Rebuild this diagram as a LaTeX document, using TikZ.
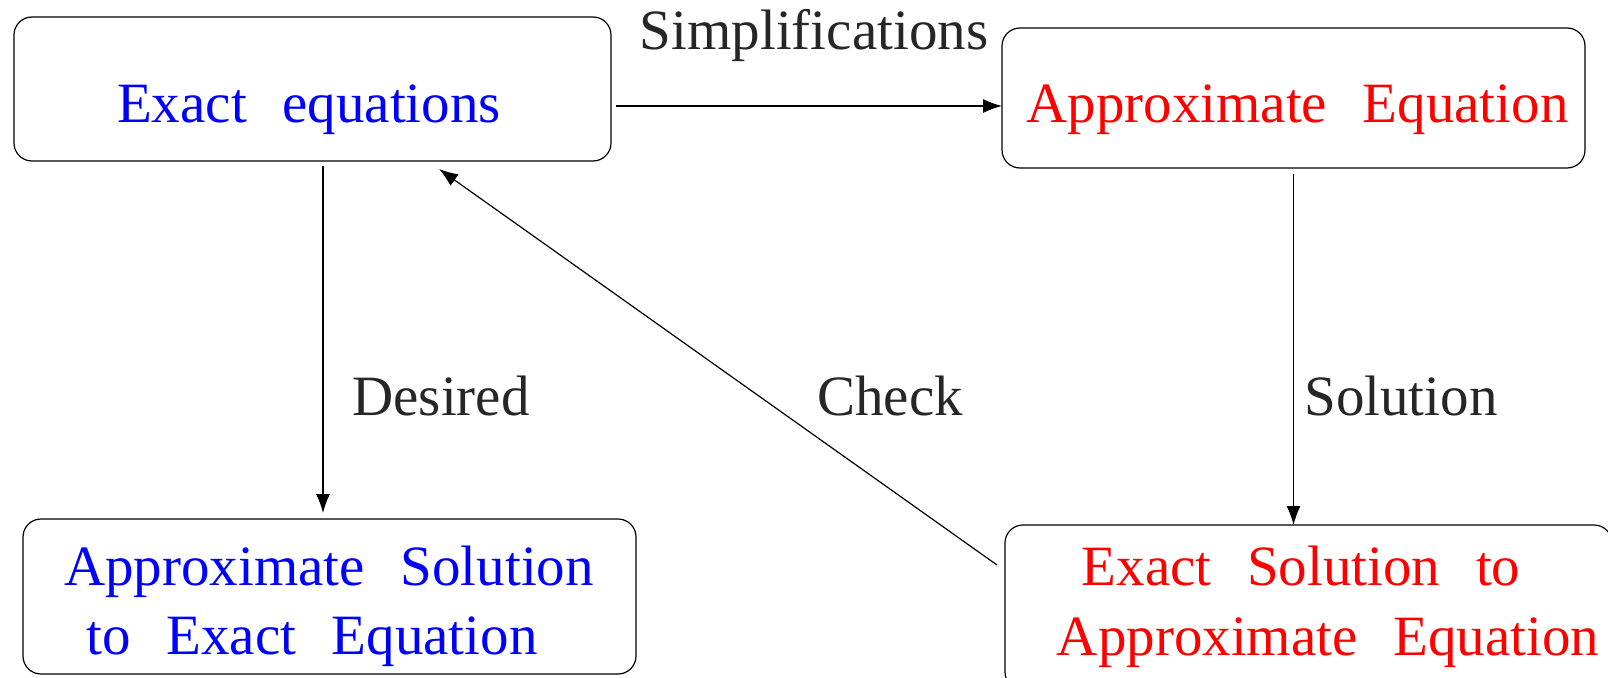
\documentclass[tikz,border=0pt]{standalone}
\usepackage{fontspec}
\setmainfont{Liberation Serif}
\newfontfamily\boxfont[WordSpace=2.5]{Liberation Serif}
\usetikzlibrary{arrows.meta,calc}

\definecolor{eqblue}{rgb}{0,0,1}
\definecolor{eqred}{rgb}{1,0,0}
\definecolor{labelgray}{gray}{0.15}

\tikzset{
  eqbox/.style={draw=black, line width=1.2pt, rounded corners=18pt,
                inner sep=0pt, outer sep=0pt},
  eqtext/.style={anchor=base, inner sep=0pt,
                 font=\boxfont\fontsize{57}{69}\selectfont},
  edgelabel/.style={anchor=base, inner sep=0pt, text=labelgray,
                    font=\fontsize{57}{69}\selectfont},
  arr/.style={line width=1.2pt, -{Latex[length=19pt,width=14pt]}}
}

\begin{document}
\begin{tikzpicture}[x=1pt, y=-1pt]
  \useasboundingbox (0,0) rectangle (1608,677);
  \clip (0,0) rectangle (1608,677);

  % boxes
  \node[eqbox, minimum width=597pt, minimum height=144pt] (A) at (312.5,89) {};
  \node[eqbox, minimum width=583pt, minimum height=140pt] (B) at (1293.5,98) {};
  \node[eqbox, minimum width=613pt, minimum height=155pt] (C) at (329.5,596.5) {};
  \node[eqbox, minimum width=607pt, minimum height=165pt] (D) at (1308.5,607.5) {};

  % box texts
  \node[eqtext, text=eqblue] (tA) at (309,122) {Exact equations};
  \node[eqtext, text=eqred] (tB) at (1297.5,122) {Approximate Equation};
  \node[eqtext, text=eqblue] (tC1) at (329,585) {Approximate Solution};
  \node[eqtext, text=eqblue] (tC2) at (312,654) {to Exact Equation};
  \node[eqtext, text=eqred] (tD1) at (1301,585) {Exact Solution to};
  \node[eqtext, text=eqred] (tD2) at (1328,655) {Approximate Equation};

  % connectors
  \coordinate (ab) at ($(A.east)+(5,17)$);
  \draw[arr] (ab) -- (ab -| B.west);

  \coordinate (ac) at ($(A.south)+(10.5,5)$);
  \draw[arr, shorten >=6pt] (ac) -- (ac |- C.north);

  \coordinate (bd) at ($(B.south)+(0,6)$);
  \draw[arr] (bd) -- (bd |- D.north);

  \coordinate (da) at ($(D.west)+(-8,-42.5)$);
  \coordinate (ad) at ($(A.south)+(126.5,8)$);
  \draw[arr] (da) -- (ad);

  % connector labels
  \node[edgelabel] (lS) at (814,49) {Simplifications};
  \node[edgelabel] (lDes) at (441,415) {Desired};
  \node[edgelabel] (lChk) at (890,415) {Check};
  \node[edgelabel] (lSol) at (1401,415) {Solution};
\end{tikzpicture}
\end{document}
